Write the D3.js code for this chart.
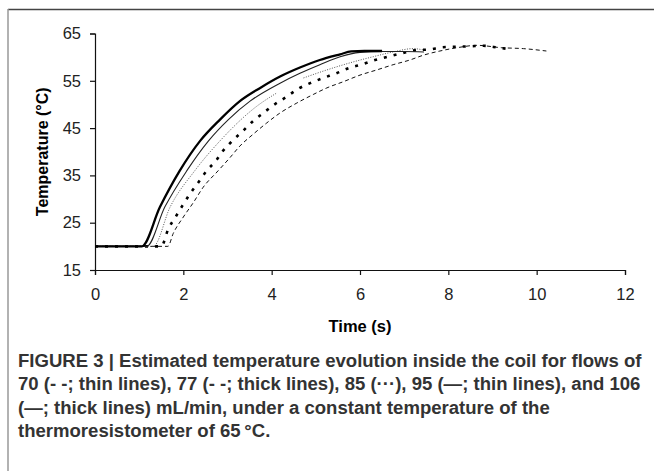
<!DOCTYPE html>
<html>
<head>
<meta charset="utf-8">
<script src="https://cdn.jsdelivr.net/npm/d3@7"></script>
<style>
    body { margin: 0; background: #fff; }
    svg { display: block; font-family: "Liberation Sans", Arial, sans-serif; }
    .axis text { font-size: 16.5px; fill: #222; }
    .axis path, .axis line { stroke: #111; stroke-width: 1.2; }
    .caption { font-size: 16px; font-weight: bold; fill: #333; }
</style>
</head>
<body>
<svg id="fig" width="654" height="471"></svg>
<script>
// Time (s) and temperature (°C) for each flow, mL/min
var time106 = [0, 1.06, 1.47, 1.92, 2.38, 2.83, 3.28, 3.74, 4.19, 4.64, 5.09, 5.55, 5.8, 6.1, 6.5];
var temp106 = [20, 20, 28.3, 36.0, 42.3, 46.8, 50.7, 53.5, 55.9, 57.8, 59.4, 60.6, 61.2, 61.3, 61.3];

var time95 = [0, 1.17, 1.58, 2.08, 2.57, 3.02, 3.51, 4.19, 4.64, 5.09, 5.55, 6.0, 6.5, 7.0, 7.45];
var temp95 = [20, 20, 28.3, 36.0, 42.3, 46.8, 50.7, 54.5, 56.6, 58.4, 60.1, 61.0, 61.2, 61.2, 61.1];

// the dotted curve has a gap in the original (null)
var time85 = [0, 1.32, 1.70, 2.26, 2.83, 3.66, 4.11, null, 4.72, 5.25, 5.85, 6.3, 6.75, 7.2, 7.45];
var temp85 = [20, 20, 28.3, 36.0, 42.3, 49.6, 52.4, null, 55.6, 57.3, 59.0, 60.1, 61.1, 61.8, 61.5];

var time77 = [0, 1.5, 1.66, 1.83, 1.98, 2.15, 2.34, 2.53, 2.74, 2.9, 3.12, 3.36, 3.58, 3.81, 4.08, 4.32,
    4.6, 4.87, 5.17, 5.47, 5.75, 6.06, 6.34, 6.64, 6.94, 7.28, 7.55, 7.88, 8.19, 8.5, 8.79, 9.13, 9.45];
var temp77 = [20, 20, 23.7, 26.3, 28.6, 31.1, 33.5, 36.0, 38.1, 40.2, 42.4, 44.5, 46.5, 48.2, 50.1, 51.5,
    53.3, 54.5, 55.6, 56.6, 57.7, 58.5, 59.4, 60.1, 60.8, 61.5, 61.6, 62.1, 62.2, 62.3, 62.4, 62.0, 61.6];

var time70 = [0, 1.65, 1.77, 2.0, 2.23, 2.45, 2.79, 3.06, 3.28, 3.58, 3.89, 4.19, 4.57, 4.94, 5.25,
    5.62, 6.0, 6.38, 6.75, 7.13, 7.43, 7.81, 8.2, 8.65, 9.2, 9.7, 10.22];
var temp70 = [20, 20, 22.7, 26.2, 29.3, 32.5, 36.0, 38.8, 41.2, 43.7, 46.1, 48.2, 50.3, 52.1, 53.5,
    54.8, 56.2, 57.3, 58.4, 59.4, 60.4, 61.3, 62.0, 62.5, 62.0, 61.8, 61.3];

var xTicks = [0, 2, 4, 6, 8, 10, 12];
var yTicks = [15, 25, 35, 45, 55, 65];

var captionLines = [
    'FIGURE 3 | Estimated temperature evolution inside the coil for flows of',
    '70 (- -; thin lines), 77 (- -; thick lines), 85 (\u00b7\u00b7\u00b7), 95 (\u2014; thin lines), and 106',
    '(\u2014; thick lines) mL/min, under a constant temperature of the',
    'thermoresistometer of 65\u202f\u00b0C.'
];

var plotLeft = 95, plotRight = 625, plotTop = 33.5, plotBottom = 270;
var captionWidth = 624;  // width of the first caption line in the reference

var svg = d3.select('#fig');

// frame round the figure
svg.append('line')
    .attr('x1', 8).attr('x2', 654).attr('y1', 9.5).attr('y2', 9.5)
    .attr('stroke', '#444').attr('stroke-width', 1.5);
svg.append('line')
    .attr('x1', 8).attr('x2', 8).attr('y1', 9).attr('y2', 471)
    .attr('stroke', '#999').attr('stroke-width', 1.5);

var xScale = d3.scaleLinear().domain([0, 12]).range([plotLeft, plotRight]);
var yScale = d3.scaleLinear().domain([15, 65]).range([plotBottom, plotTop]);

svg.append('g')
    .attr('class', 'axis')
    .attr('transform', 'translate(0,' + plotBottom + ')')
    .call(d3.axisBottom(xScale).tickValues(xTicks).tickSize(5).tickPadding(13));

svg.append('g')
    .attr('class', 'axis')
    .attr('transform', 'translate(' + plotLeft + ',0)')
    .call(d3.axisLeft(yScale).tickValues(yTicks).tickSize(5).tickPadding(9));

svg.append('text')
    .attr('x', (plotLeft + plotRight) / 2)
    .attr('y', 332)
    .attr('text-anchor', 'middle')
    .style('font-size', '16.5px').style('font-weight', 'bold')
    .text('Time (s)');

svg.append('text')
    .attr('transform', 'translate(48,' + (plotTop + plotBottom) / 2 + ') rotate(-90)')
    .attr('text-anchor', 'middle')
    .style('font-size', '16px').style('font-weight', 'bold')
    .text('Temperature (\u00b0C)');

function toPoints(ts, vs) {
    return ts.map(function (t, i) { return { t: t, v: vs[i] }; });
}

var line = d3.line()
    .defined(function (d) { return d.t !== null; })
    .x(function (d) { return xScale(d.t); })
    .y(function (d) { return yScale(d.v); })
    .curve(d3.curveMonotoneX);

var series = [
    { pts: toPoints(time70, temp70), width: 1, dash: '4,3', color: '#111' },
    { pts: toPoints(time77, temp77), width: 2.6, dash: '3,7', color: '#000' },
    { pts: toPoints(time85, temp85), width: 1, dash: '1,1.5', color: '#555' },
    { pts: toPoints(time95, temp95), width: 1.1, dash: null, color: '#222' },
    { pts: toPoints(time106, temp106), width: 2.3, dash: null, color: '#000' }
];

svg.append('g').selectAll('path')
    .data(series)
    .enter()
    .append('path')
    .attr('d', function (d) { return line(d.pts); })
    .attr('fill', 'none')
    .attr('stroke', function (d) { return d.color; })
    .attr('stroke-width', function (d) { return d.width; })
    .attr('stroke-dasharray', function (d) { return d.dash; });

var caption = svg.append('g').selectAll('text')
    .data(captionLines)
    .enter()
    .append('text')
    .attr('class', 'caption')
    .attr('x', 18)
    .attr('y', function (d, i) { return 367 + i * 23.4; })
    .text(function (d) { return d; });

// scale caption font so the first line is as wide as in the reference
var firstWidth = caption.node().getComputedTextLength();
caption.style('font-size', (16 * captionWidth / firstWidth) + 'px');
</script>
</body>
</html>
